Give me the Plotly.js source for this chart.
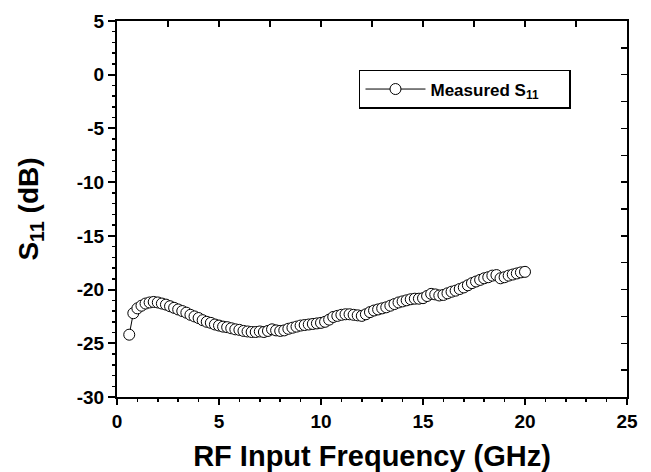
<!DOCTYPE html>
<html>
<head>
<meta charset="utf-8">
<script src="https://cdn.plot.ly/plotly-3.0.1.min.js"></script>
<style>html,body{margin:0;padding:0;background:#fff;}#chart{width:651px;height:472px;}</style>
</head>
<body>
<div id="chart"></div>
<script>
// Frequency (GHz)
const freq = [0.6,0.8,1.0,1.2,1.4,1.6,1.8,2.0,2.2,2.4,2.6,2.8,3.0,3.2,3.4,3.6,3.8,4.0,4.2,4.4,4.6,4.8,5.0,5.2,5.4,5.6,5.8,6.0,6.2,6.4,6.6,6.8,7.0,7.2,7.4,7.6,7.8,8.0,8.2,8.4,8.6,8.8,9.0,9.2,9.4,9.6,9.8,10.0,10.2,10.4,10.6,10.8,11.0,11.2,11.4,11.6,11.8,12.0,12.2,12.4,12.6,12.8,13.0,13.2,13.4,13.6,13.8,14.0,14.2,14.4,14.6,14.8,15.0,15.2,15.4,15.6,15.8,16.0,16.2,16.4,16.6,16.8,17.0,17.2,17.4,17.6,17.8,18.0,18.2,18.4,18.6,18.8,19.0,19.2,19.4,19.6,19.8,20.0];
// Measured S11 (dB)
const s11 = [-24.2,-22.2,-21.75,-21.5,-21.3,-21.2,-21.15,-21.2,-21.3,-21.4,-21.55,-21.7,-21.85,-22.0,-22.15,-22.35,-22.5,-22.65,-22.85,-23.0,-23.1,-23.25,-23.35,-23.45,-23.5,-23.6,-23.7,-23.75,-23.85,-23.9,-23.95,-23.95,-23.9,-23.95,-23.85,-23.7,-23.8,-23.85,-23.8,-23.65,-23.55,-23.45,-23.35,-23.3,-23.25,-23.2,-23.15,-23.1,-23.0,-22.8,-22.55,-22.45,-22.35,-22.3,-22.3,-22.35,-22.4,-22.45,-22.3,-22.1,-21.95,-21.85,-21.75,-21.65,-21.5,-21.35,-21.2,-21.1,-21.0,-20.9,-20.85,-20.85,-20.8,-20.6,-20.4,-20.45,-20.55,-20.5,-20.35,-20.2,-20.1,-19.95,-19.8,-19.6,-19.4,-19.25,-19.1,-18.95,-18.85,-18.7,-18.65,-18.95,-18.85,-18.7,-18.6,-18.5,-18.4,-18.35];
const xTickVals = [0,5,10,15,20,25];
const yTickVals = [5,0,-5,-10,-15,-20,-25,-30];
const seriesName = "Measured S<sub>11</sub>";

const FONT = "Liberation Sans, Arial, Helvetica, sans-serif";

const traces = [
  {
    x: freq, y: s11, type: "scatter", mode: "lines+markers",
    name: seriesName,
    line: {color: "#000", width: 1},
    marker: {symbol: "circle", size: 11, color: "#fff", line: {color: "#000", width: 1}}
  },
  {
    x: [], y: [], xaxis: "x2", yaxis: "y2", type: "scatter", mode: "markers",
    showlegend: false, hoverinfo: "skip"
  }
];

const layout = {
  width: 651, height: 472,
  margin: {l: 117, r: 24, t: 21, b: 75},
  paper_bgcolor: "#fff", plot_bgcolor: "#fff",
  font: {family: FONT, color: "#000", weight: "bold"},
  showlegend: true,
  legend: {
    x: 0.4745, y: 0.8697, xanchor: "left", yanchor: "top",
    orientation: "h", entrywidth: 134, entrywidthmode: "pixels",
    bgcolor: "#fff", bordercolor: "#000", borderwidth: 1.5,
    font: {family: FONT, size: 17, color: "#000", weight: "bold"},
    itemwidth: 60
  },
  xaxis: {
    range: [0, 25], tickvals: xTickVals, ticktext: xTickVals.map(String),
    ticks: "outside", ticklen: 6, tickwidth: 2, tickcolor: "#000",
    minor: {dtick: 1, tick0: 0, ticks: "outside", ticklen: 3, tickwidth: 1.5, tickcolor: "#000"},
    showline: true, linecolor: "#000", linewidth: 2, mirror: true,
    showgrid: false, zeroline: false,
    tickfont: {family: FONT, size: 19, color: "#000", weight: "bold"},
    title: {text: "RF Input Frequency (GHz)", font: {family: FONT, size: 29, color: "#000", weight: "bold"}, standoff: 20},
    automargin: false
  },
  yaxis: {
    range: [-30, 5], tickvals: yTickVals, ticktext: yTickVals.map(String),
    ticks: "outside", ticklen: 7, tickwidth: 2, tickcolor: "#000",
    minor: {dtick: 1, tick0: 0, ticks: "outside", ticklen: 3, tickwidth: 1.5, tickcolor: "#000"},
    showline: true, linecolor: "#000", linewidth: 2, mirror: true,
    showgrid: false, zeroline: false,
    tickfont: {family: FONT, size: 19, color: "#000", weight: "bold"},
    title: {text: "S<sub>11</sub> (dB)", font: {family: FONT, size: 28, color: "#000", weight: "bold"}, standoff: 30},
    automargin: false
  },
  xaxis2: {
    range: [0, 25], overlaying: "x", side: "top", dtick: 2.5, tick0: 0,
    ticks: "inside", ticklen: 6, tickwidth: 1.5, tickcolor: "#000",
    showticklabels: false, showgrid: false, zeroline: false, showline: false
  },
  yaxis2: {
    range: [-30, 5], overlaying: "y", side: "right", dtick: 2.5, tick0: 0,
    ticks: "inside", ticklen: 6, tickwidth: 1.5, tickcolor: "#000",
    showticklabels: false, showgrid: false, zeroline: false, showline: false
  }
};

Plotly.newPlot("chart", traces, layout, {displayModeBar: false, staticPlot: true});
</script>
</body>
</html>
